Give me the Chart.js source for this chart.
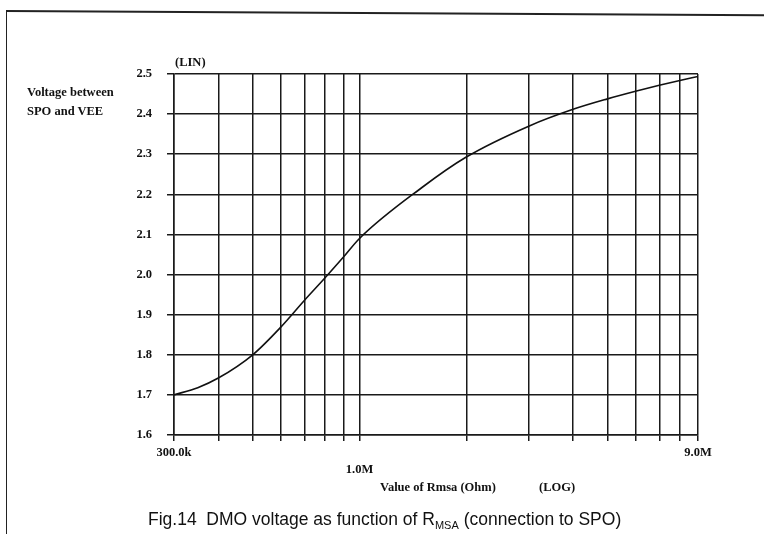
<!DOCTYPE html>
<html>
<head>
<meta charset="utf-8">
<script src="https://cdn.jsdelivr.net/npm/chart.js@4.4.1/dist/chart.umd.min.js"></script>
<style>
  html, body { margin: 0; padding: 0; background: #fff; }
  #wrap { position: relative; width: 764px; height: 534px; overflow: hidden; background: #fff; }
  #chart { position: absolute; left: 0; top: 0; }
  .frame-left { position: absolute; left: 6px; top: 10px; width: 0; height: 530px; border-left: 1.5px solid #222; }
  .frame-top { position: absolute; left: 6px; top: 10px; width: 770px; height: 0; border-top: 2px solid #222;
               transform-origin: 0 0; transform: rotate(0.32deg); }
  .lbl { position: absolute; font-family: "Liberation Serif", "DejaVu Serif", serif; font-weight: bold;
         color: #111; white-space: nowrap; font-size: 12.5px; }
  .caption { position: absolute; font-family: "Liberation Sans", Arial, sans-serif; color: #111;
             white-space: nowrap; font-size: 17.5px; }
  .caption sub { font-size: 11px; vertical-align: -4px; }
</style>
</head>
<body>
<div id="wrap">
  <canvas id="chart" width="764" height="534"></canvas>
  <div class="frame-top"></div>
  <div class="frame-left"></div>
  <div class="lbl" style="left:175px; top:55px;">(LIN)</div>
  <div class="lbl" style="left:27px; top:85px;">Voltage between</div>
  <div class="lbl" style="left:27px; top:104px;">SPO and VEE</div>
  <div class="lbl" style="left:380px; top:480px;">Value of Rmsa (Ohm)</div>
  <div class="lbl" style="left:539px; top:480px;">(LOG)</div>
  <div class="caption" style="left:148px; top:509px;">Fig.14&nbsp; DMO voltage as function of R<sub>MSA</sub> (connection to SPO)</div>
</div>
<script>
// resistance (Ohm) and voltage
const rmsa = [3e5, 3.5e5, 4e5, 5e5, 6e5, 7e5, 8e5, 9e5, 1e6, 1.5e6, 2e6, 3e6, 4e6, 5e6, 6e6, 7e6, 8e6, 9e6]
const voltage = [1.70, 1.718, 1.742, 1.80, 1.869, 1.936, 1.992, 2.043, 2.09, 2.217, 2.293, 2.37, 2.412, 2.438, 2.457, 2.472, 2.484, 2.494]

// log grid positions and the few that carry a label
const xGrid = [3e5, 4e5, 5e5, 6e5, 7e5, 8e5, 9e5, 1e6, 2e6, 3e6, 4e6, 5e6, 6e6, 7e6, 8e6, 9e6]
const xTickLabels = { 3e5: "300.0k", 1e6: ["", "1.0M"], 9e6: "9.0M" }
const yMin = 1.6, yMax = 2.5, yStep = 0.1

const tickFont = { family: "'Liberation Serif', 'DejaVu Serif', serif", size: 12.5, weight: "bold", lineHeight: 1.3 }

new Chart(document.getElementById("chart"), {
  type: "line",
  data: {
    datasets: [{
      data: rmsa.map((r, i) => ({ x: r, y: voltage[i] })),
      borderColor: "#111",
      borderWidth: 1.6,
      pointRadius: 0,
      cubicInterpolationMode: "monotone",
      fill: false,
    }],
  },
  options: {
    responsive: false,
    animation: false,
    events: [],
    layout: { padding: { left: 0, top: 74, right: 66, bottom: 59 } },
    plugins: { legend: { display: false }, tooltip: { enabled: false } },
    scales: {
      x: {
        type: "logarithmic",
        min: 3e5,
        max: 9e6,
        afterBuildTicks: (s) => { s.ticks = xGrid.map(v => ({ value: v })) },
        afterFit: (s) => { s.height = 40 },
        grid: { color: "#1a1a1a", lineWidth: 1.5, tickLength: 6, drawTicks: true },
        border: { color: "#1a1a1a", width: 1.5 },
        ticks: {
          autoSkip: false,
          maxRotation: 0,
          padding: 4,
          color: "#111",
          font: tickFont,
          callback: (v) => xTickLabels[v] ?? "",
        },
      },
      y: {
        min: yMin,
        max: yMax,
        afterFit: (s) => { s.width = 174 },
        grid: { color: "#1a1a1a", lineWidth: 1.5, tickLength: 7, drawTicks: true },
        border: { color: "#1a1a1a", width: 1.5 },
        ticks: {
          stepSize: yStep,
          padding: 15,
          color: "#111",
          font: tickFont,
          callback: (v) => v.toFixed(1),
        },
      },
    },
  },
})
</script>
</body>
</html>
